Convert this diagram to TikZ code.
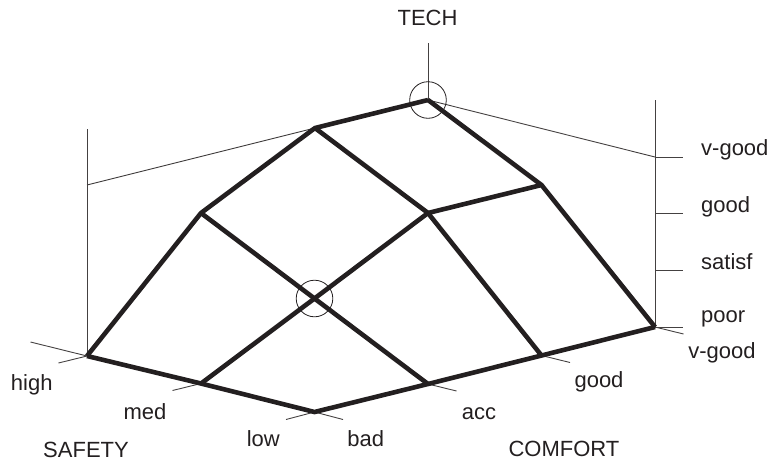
\documentclass[tikz,border=0pt]{standalone}
\usepackage{fontspec}
\setmainfont{Liberation Sans}
\definecolor{ink}{HTML}{231F20}
\begin{document}
\begin{tikzpicture}[x=1pt,y=-1pt,
  mesh/.style={draw=ink,line width=4.6pt,line join=miter,line cap=butt},
  thin/.style={draw=ink!85,line width=0.9pt},
  lbl/.style={anchor=base,inner sep=0pt,text=ink,font=\fontsize{22}{26}\selectfont},
  rlbl/.style={lbl,anchor=base west},
  mark circle/.style={draw=ink,line width=0.8pt}]
\useasboundingbox (0,0) rectangle (768,463);
% grid points: p<safety><comfort>
\coordinate (p00) at (314.5,412);
\coordinate (p10) at (201,383.5);
\coordinate (p20) at (87,356);
\coordinate (p01) at (428,384);
\coordinate (p02) at (541.5,355.5);
\coordinate (p03) at (655,327);
\coordinate (p11) at (314.5,298.5);
\coordinate (p12) at (428,213);
\coordinate (p13) at (541.5,185);
\coordinate (p21) at (201,213);
\coordinate (p22) at (315,128);
\coordinate (p23) at (428,100);
% auxiliary points
\coordinate (hT) at (87,129);
\coordinate (hV) at (87,185);
\coordinate (tT) at (428,43);
\coordinate (rTop) at (655,100);
\coordinate (rV) at (655,157);
\coordinate (rG) at (655,213.3);
\coordinate (rS) at (655,270);
\coordinate (rVe) at (683,157);
\coordinate (rGe) at (683,213.3);
\coordinate (rSe) at (683,270);
\coordinate (rPe) at (683,327);
\coordinate (tL1) at (286,419.5);
\coordinate (tL2) at (343,419.5);
\coordinate (tM) at (172.5,390.5);
\coordinate (tH1) at (58.5,363);
\coordinate (tH2) at (30.5,342);
\coordinate (tA) at (456.5,391);
\coordinate (tG) at (570,362.5);
\coordinate (tV) at (683.5,334);
% thin lines
\draw[thin] (p20) -- (hT);
\draw[thin] (hV) -- (p22);
\draw[thin] (p23) -- (tT);
\draw[thin] (p23) -- (rV);
\draw[thin] (p03) -- (rTop);
\draw[thin] (rV) -- (rVe);
\draw[thin] (rG) -- (rGe);
\draw[thin] (rS) -- (rSe);
\draw[thin] (p03) -- (rPe);
\draw[thin] (p00) -- (tL1);
\draw[thin] (p00) -- (tL2);
\draw[thin] (p10) -- (tM);
\draw[thin] (p20) -- (tH1);
\draw[thin] (p20) -- (tH2);
\draw[thin] (p01) -- (tA);
\draw[thin] (p02) -- (tG);
\draw[thin] (p03) -- (tV);
% circles
\draw[mark circle] (p23) circle[radius=18.3];
\draw[mark circle] (p11) circle[radius=18.3];
% mesh
\draw[mesh] (p20) -- (p10) -- (p00) -- (p01) -- (p02) -- (p03);
\draw[mesh] (p10) -- (p11) -- (p12) -- (p13);
\draw[mesh] (p20) -- (p21) -- (p22) -- (p23);
\draw[mesh] (p01) -- (p11) -- (p21);
\draw[mesh] (p02) -- (p12) -- (p22);
\draw[mesh] (p03) -- (p13) -- (p23);
% labels
\node[lbl] (tech) at (427.5,25.5) {TECH};
\node[lbl] (high) at (31.7,390) {high};
\node[lbl] (med) at (145,419) {med};
\node[lbl] (low) at (263.3,446.5) {low};
\node[lbl] (bad) at (365.7,446.5) {bad};
\node[lbl] (acc) at (479,419) {acc};
\node[lbl] (cgood) at (599,387) {good};
\node[lbl] (cvgood) at (722,358) {v-good};
\node[lbl] (safety) at (86,457) {SAFETY};
\node[lbl] (comfort) at (564,456.5) {COMFORT};
\node[rlbl] (tvgood) at (701,155) {v-good};
\node[rlbl] (tgood) at (701,212) {good};
\node[rlbl] (tsatisf) at (701,269) {satisf};
\node[rlbl] (tpoor) at (701,322) {poor};
\end{tikzpicture}
\end{document}
